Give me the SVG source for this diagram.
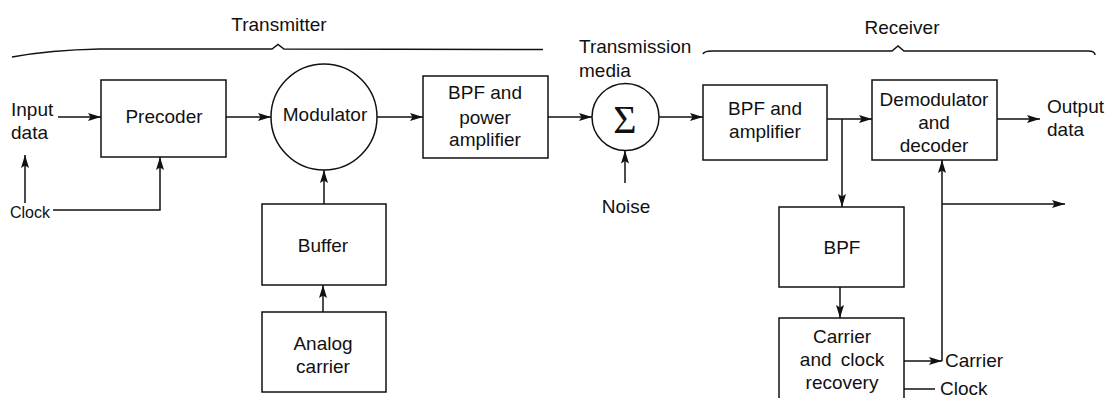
<svg xmlns="http://www.w3.org/2000/svg" width="1108" height="398" viewBox="0 0 1108 398">
<style>
.box{fill:none;stroke:#111;stroke-width:1.5}
.t{font-family:"Liberation Sans",Arial,sans-serif;font-size:19px;fill:#111;text-anchor:middle}
.l{font-family:"Liberation Sans",Arial,sans-serif;font-size:19px;fill:#111}
.c{fill:none;stroke:#111;stroke-width:1.5}
.a{marker-end:url(#ah)}
</style>
<defs>
<marker id="ah" markerUnits="userSpaceOnUse" markerWidth="14" markerHeight="9" refX="13" refY="4.5" orient="auto">
<path d="M0,0.5 L13,4.5 L0,8.5 L2.5,4.5 Z" fill="#111"/>
</marker>
</defs>
<rect width="1108" height="398" fill="#fff"/>

<g id="braces">
<path class="c" d="M12,57 Q50,50 100,49 L272,49 L278,44.5 L284,49 L543,49.5"/>
<text class="t" x="279" y="31">Transmitter</text>
<path class="c" d="M703,54 Q704,51 712,51 L892,51 L898,46 L904,51 L1088,51 Q1095,51 1095,55"/>
<text class="t" x="902" y="34">Receiver</text>
<text class="l" x="579" y="53">Transmission</text>
<text class="l" x="579" y="77">media</text>
</g>

<g id="input-label"><text class="l" x="11" y="116">Input</text><text class="l" x="11" y="139">data</text></g>
<g id="clock-label"><text class="l" x="10" y="218" style="font-size:16px">Clock</text></g>

<g id="precoder"><rect class="box" x="101" y="80" width="125" height="77"/><text class="t" x="164" y="123">Precoder</text></g>
<g id="modulator"><circle class="box" cx="324" cy="117" r="53"/><text class="t" x="325" y="121">Modulator</text></g>
<g id="bpf-power"><rect class="box" x="423" y="76" width="125" height="82"/>
<text class="t" x="485" y="99">BPF and</text><text class="t" x="485" y="124">power</text><text class="t" x="485" y="146">amplifier</text></g>
<g id="buffer"><rect class="box" x="262" y="204" width="124" height="81"/><text class="t" x="323" y="252">Buffer</text></g>
<g id="analog"><rect class="box" x="262" y="312" width="124" height="80"/><text class="t" x="323" y="350">Analog</text><text class="t" x="323" y="373">carrier</text></g>
<g id="sum"><circle class="box" cx="625.5" cy="117" r="33.5"/><text x="625" y="133" style="font-family:'Liberation Serif','Times New Roman',serif;font-size:40px;text-anchor:middle;fill:#111">Σ</text></g>
<g id="noise"><text class="t" x="626" y="213">Noise</text></g>
<g id="bpf-amp"><rect class="box" x="703" y="85" width="124" height="75"/><text class="t" x="765" y="115">BPF and</text><text class="t" x="765" y="138">amplifier</text></g>
<g id="demod"><rect class="box" x="872" y="80" width="125" height="80"/>
<text class="t" x="934" y="106">Demodulator</text><text class="t" x="934" y="129">and</text><text class="t" x="934" y="152">decoder</text></g>
<g id="output-label"><text class="l" x="1047" y="113">Output</text><text class="l" x="1047" y="136">data</text></g>
<g id="bpf"><rect class="box" x="779" y="207" width="125" height="80"/><text class="t" x="842" y="254">BPF</text></g>
<g id="recovery"><path class="box" d="M779,402 V318 H904 V402"/>
<text class="t" x="842" y="343">Carrier</text><text class="t" x="842" y="366" style="word-spacing:4px">and clock</text><text class="t" x="842" y="389">recovery</text></g>
<g id="carrier-label"><text class="l" x="945" y="367">Carrier</text></g>
<g id="clock-out-label"><text class="l" x="940" y="395">Clock</text></g>

<g id="connectors">
<path class="c a" d="M58,117 H101"/>
<path class="c a" d="M226,117 H271"/>
<path class="c a" d="M377,117 H423"/>
<path class="c a" d="M548,117 H592"/>
<path class="c a" d="M659,117 H703"/>
<path class="c a" d="M625,183 V150.5"/>
<path class="c a" d="M324,204 V170"/>
<path class="c a" d="M323,312 V285"/>
<path class="c a" d="M53,210 H160 V157"/>
<path class="c a" d="M25,203 V155"/>
<path class="c a" d="M827,119 H872"/>
<path class="c a" d="M842,119 V207"/>
<path class="c a" d="M840,287 V318"/>
<path class="c a" d="M904,361 H942"/>
<path class="c a" d="M942,361 V160"/>
<path class="c a" d="M942,204 H1065"/>
<path class="c" d="M904,389 H935"/>
<path class="c a" d="M997,119 H1040"/>
</g>
</svg>
